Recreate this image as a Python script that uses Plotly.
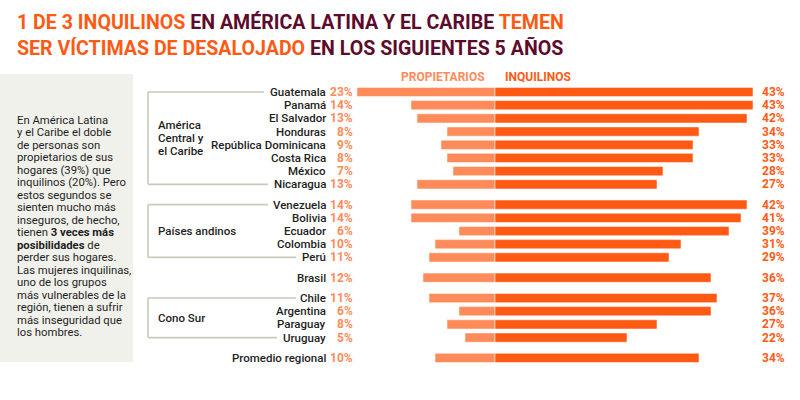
import plotly.graph_objects as go

countries = ["Guatemala", "Panamá", "El Salvador", "Honduras", "República Dominicana",
             "Costa Rica", "México", "Nicaragua", "Venezuela", "Bolivia", "Ecuador",
             "Colombia", "Perú", "Brasil", "Chile", "Argentina", "Paraguay", "Uruguay",
             "Promedio regional"]
propietarios = [23, 14, 13, 8, 9, 8, 7, 13, 14, 14, 6, 10, 11, 12, 11, 6, 8, 5, 10]
inquilinos = [43, 43, 42, 34, 33, 33, 28, 27, 42, 41, 39, 31, 29, 36, 37, 36, 27, 22, 34]
block = [0] * 8 + [1] * 5 + [2] + [3] * 4 + [4]
group_names = {0: ["América", "Central y", "el Caribe"], 1: ["Países andinos"], 3: ["Cono Sur"]}

side_lines = ["En América Latina", "y el Caribe el doble", "de personas son",
              "propietarios de sus", "hogares (39%) que", "inquilinos (20%). Pero",
              "estos segundos se", "sienten mucho más", "inseguros, de hecho,",
              "tienen <b>3 veces más</b>", "<b>posibilidades</b> de", "perder sus hogares.",
              "Las mujeres inquilinas,", "uno de los grupos", "más vulnerables de la",
              "región, tienen a sufrir", "más inseguridad que", "los hombres."]

C_PROP = "#FF8B5A"
C_INQ = "#FF5A14"
C_DARK = "#5E0B2B"
C_TEXT = "#1E1E1E"
C_LINE = "#C9C9BC"

W, H = 800, 400
ROW = 13.19
TOP = 92
CENTER = 495
PXPCT = 6.0

ypos = [i + b * 0.54 for i, b in enumerate(block)]

fig = go.Figure()
fig.add_trace(go.Bar(
    y=ypos, x=[-v for v in propietarios], orientation="h", width=0.7,
    marker=dict(color=C_PROP, line=dict(color="rgba(255,255,255,0.5)", width=1)),
    hoverinfo="skip", showlegend=False))
fig.add_trace(go.Bar(
    y=ypos, x=inquilinos, orientation="h", width=0.7,
    marker=dict(color=C_INQ, line=dict(color="rgba(255,255,255,0.5)", width=1)),
    hoverinfo="skip", showlegend=False))

ann = []
shapes = []
# left panel
shapes.append(dict(type="rect", xref="paper", yref="paper", x0=0, x1=133 / W,
                   y0=1 - 362 / H, y1=1 - 74 / H, fillcolor="#F1F1EC", line=dict(width=0),
                   layer="below"))

FONT = "Roboto"
for c, p, q, y in zip(countries, propietarios, inquilinos, ypos):
    ann.append(dict(x=328 / W, xref="paper", y=y, yref="y", text=c, showarrow=False,
                    xanchor="right", yanchor="middle",
                    font=dict(family=FONT, size=11.5, color=C_TEXT, weight=500)))
    ann.append(dict(x=355 / W, xref="paper", y=y, yref="y", text=f"{p}%", showarrow=False,
                    xanchor="right", yanchor="middle",
                    font=dict(family=FONT, size=12, color=C_PROP, weight=700)))
    ann.append(dict(x=760 / W, xref="paper", y=y, yref="y", text=f"{q}%", showarrow=False,
                    xanchor="left", yanchor="middle",
                    font=dict(family=FONT, size=12, color=C_INQ, weight=700)))

# group brackets
for b, names in group_names.items():
    idx = [i for i, bb in enumerate(block) if bb == b]
    y0, y1 = ypos[idx[0]], ypos[idx[-1]]
    mid = (y0 + y1) / 2
    n = len(names)
    for k, name in enumerate(names):
        ann.append(dict(x=156 / W, xref="paper", y=mid + (k - (n - 1) / 2) * (13 / ROW),
                        yref="y", text=name, showarrow=False, xanchor="left",
                        yanchor="middle", align="left",
                        font=dict(family=FONT, size=11.5, color=C_TEXT, weight=500)))
    ends = {0: (264, 268), 1: (268, 296), 3: (296, 277)}[b]
    shapes.append(dict(type="line", xref="paper", yref="y", x0=148 / W, x1=148 / W,
                       y0=y0, y1=y1, line=dict(color=C_LINE, width=1.6)))
    shapes.append(dict(type="line", xref="paper", yref="y", x0=148 / W, x1=ends[0] / W,
                       y0=y0, y1=y0, line=dict(color=C_LINE, width=1.6)))
    shapes.append(dict(type="line", xref="paper", yref="y", x0=148 / W, x1=ends[1] / W,
                       y0=y1, y1=y1, line=dict(color=C_LINE, width=1.6)))

# headers
ann.append(dict(x=487 / W, xref="paper", y=1 - 77 / H, yref="paper", text="PROPIETARIOS",
                showarrow=False, xanchor="right", yanchor="middle",
                font=dict(family=FONT, size=12, color=C_PROP, weight=700)))
ann.append(dict(x=503 / W, xref="paper", y=1 - 77 / H, yref="paper", text="INQUILINOS",
                showarrow=False, xanchor="left", yanchor="middle",
                font=dict(family=FONT, size=12, color=C_INQ, weight=700)))

# title
t1 = (f"<span style='color:{C_INQ}'>1 DE 3 INQUILINOS</span> EN AMÉRICA LATINA Y EL CARIBE "
      f"<span style='color:{C_INQ}'>TEMEN</span>")
t2 = (f"<span style='color:{C_INQ}'>SER VÍCTIMAS DE DESALOJADO</span> EN LOS SIGUIENTES 5 AÑOS")
ann.append(dict(x=15 / W, xref="paper", y=1 - 22 / H, yref="paper", text=t1, showarrow=False,
                xanchor="left", yanchor="middle",
                font=dict(family=FONT, size=19.6, color=C_DARK, weight=700)))
ann.append(dict(x=15 / W, xref="paper", y=1 - 48 / H, yref="paper", text=t2, showarrow=False,
                xanchor="left", yanchor="middle",
                font=dict(family=FONT, size=19.6, color=C_DARK, weight=700)))

# side text, one line each
for k, line in enumerate(side_lines):
    ann.append(dict(x=15 / W, xref="paper", y=1 - (120 + k * 12.5) / H, yref="paper",
                    text=line, showarrow=False, xanchor="left", yanchor="middle",
                    align="left", font=dict(family=FONT, size=11.3, color=C_TEXT)))

fig.update_layout(
    width=W, height=H, margin=dict(l=0, r=0, t=0, b=0),
    paper_bgcolor="white", plot_bgcolor="white", barmode="overlay",
    xaxis=dict(range=[-CENTER / PXPCT, (W - CENTER) / PXPCT], domain=[0, 1], visible=False,
               fixedrange=True),
    yaxis=dict(range=[(H - TOP) / ROW, -TOP / ROW], domain=[0, 1], visible=False,
               fixedrange=True),
    annotations=ann, shapes=shapes,
)
fig.write_html("out.html", config={"displayModeBar": False},
               post_script="document.body.style.margin='0';")
